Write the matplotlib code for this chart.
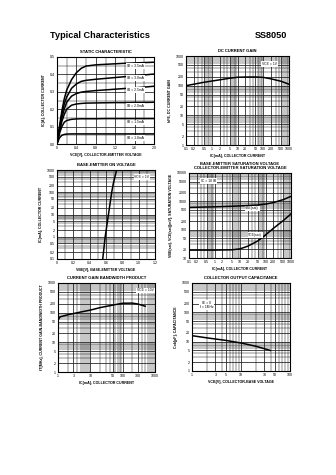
import matplotlib
matplotlib.use("Agg")
import matplotlib.pyplot as plt
from matplotlib.ticker import LogLocator, FixedLocator, FixedFormatter, NullFormatter, MultipleLocator

# ---------------- data ----------------
# Fig 1: static characteristic
vce1 = [0, 0.05, 0.1, 0.15, 0.2, 0.3, 0.4, 0.5, 0.6, 0.8, 1.0, 1.2, 1.4, 1.6, 1.8, 2.0]
ic1_a = [0, 0.10, 0.19, 0.26, 0.31, 0.37, 0.41, 0.435, 0.448, 0.455, 0.458, 0.461, 0.464, 0.466, 0.468, 0.47]
ic1_b = [0, 0.09, 0.17, 0.23, 0.27, 0.32, 0.345, 0.36, 0.366, 0.372, 0.377, 0.382, 0.387, 0.392, 0.397, 0.402]
ic1_c = [0, 0.08, 0.15, 0.20, 0.24, 0.275, 0.29, 0.298, 0.302, 0.307, 0.311, 0.315, 0.319, 0.323, 0.327, 0.332]
ic1_d = [0, 0.07, 0.13, 0.17, 0.20, 0.223, 0.23, 0.233, 0.235, 0.236, 0.237, 0.238, 0.238, 0.239, 0.239, 0.24]
ic1_e = [0, 0.06, 0.10, 0.125, 0.135, 0.142, 0.144, 0.145, 0.145, 0.145, 0.146, 0.146, 0.146, 0.146, 0.146, 0.146]
ic1_f = [0, 0.035, 0.05, 0.055, 0.057, 0.058, 0.058, 0.058, 0.058, 0.058, 0.058, 0.058, 0.058, 0.058, 0.058, 0.058]
ib_labels = ["IB = 3.5mA", "IB = 3.0mA", "IB = 2.5mA", "IB = 2.0mA", "IB = 1.5mA", "IB = 1.0mA"]

# Fig 2: DC current gain
ic2 = [0.1, 0.2, 0.5, 1, 2, 5, 10, 20, 50, 100, 200, 500, 1000]
hfe2 = [100, 112, 130, 143, 157, 178, 192, 195, 196, 190, 170, 140, 112]

# Fig 3: base-emitter on voltage
vbe3 = [0.56, 0.59, 0.63, 0.67, 0.69, 0.71, 0.73]
ic3 = [0.1, 1, 10, 100, 250, 500, 1000]

# Fig 4: saturation voltages
ic4 = [0.1, 1, 5, 10, 20, 50, 100, 200, 500, 1000]
vbesat4 = [610, 640, 670, 690, 710, 740, 800, 900, 1150, 1500]
vcesat4 = [19, 19, 19.5, 21, 26, 40, 65, 110, 210, 360]

# Fig 5: current gain bandwidth product
ic5 = [1, 1.15, 2, 5, 10, 20, 50, 100, 200, 300, 500]
ft5 = [55, 72, 85, 105, 122, 148, 180, 208, 210, 195, 165]

# Fig 6: collector output capacitance
vcb6 = [1, 2, 5, 10, 20, 40]
cob6 = [16, 13.5, 11, 9, 7, 5]

# ---------------- layout ----------------
W, H = 336, 475
fig = plt.figure(figsize=(W / 100, H / 100), dpi=100)
fig.patch.set_facecolor("white")
FONT = "Liberation Sans"
TS = 2.6   # tick label size
LS = 2.6   # axis label size
LW = 1.1   # curve width


def rect(x0, y0, x1, y1):
    return [x0 / W, 1 - y1 / H, (x1 - x0) / W, (y1 - y0) / H]


def style(ax, title, xlabel, ylabel):
    for s in ax.spines.values():
        s.set_linewidth(0.8)
        s.set_color("black")
    ax.tick_params(which="both", length=0, pad=1.5, labelsize=TS)
    for lab in ax.get_xticklabels() + ax.get_yticklabels():
        lab.set_fontfamily(FONT)
    ax.grid(True, which="major", color="#1a1a1a", linewidth=0.55)
    ax.grid(True, which="minor", color="#1a1a1a", linewidth=0.35)
    ax.set_axisbelow(True)
    ax.set_title(title, fontsize=3.0, fontweight="bold", fontfamily=FONT, pad=3, linespacing=1.0)
    ax.set_xlabel(xlabel, fontsize=LS, fontweight="bold", fontfamily=FONT, labelpad=2)
    ax.set_ylabel(ylabel, fontsize=LS, fontweight="bold", fontfamily=FONT, labelpad=3)


def note(ax, x, y, s, ha="left", va="center"):
    ax.text(x, y, s, fontsize=2.4, fontfamily=FONT, ha=ha, va=va, zorder=5,
            bbox=dict(facecolor="white", edgecolor="none", pad=0.6))


def logticks(ax, axis, vals):
    a = ax.xaxis if axis == "x" else ax.yaxis
    a.set_major_locator(FixedLocator(vals))
    a.set_major_formatter(FixedFormatter([("%g" % v) for v in vals]))
    a.set_minor_locator(LogLocator(base=10, subs=range(2, 10), numticks=50))
    a.set_minor_formatter(NullFormatter())


# Header
fig.text(50 / W, 1 - 36 / H, "Typical Characteristics", fontsize=6.6, fontweight="bold",
         fontfamily=FONT, ha="left", va="center")
fig.text(287 / W, 1 - 36 / H, "SS8050", fontsize=6.6, fontweight="bold",
         fontfamily=FONT, ha="right", va="center")

# ---- Fig 1 ----
ax1 = fig.add_axes(rect(57, 57, 154, 144))
for ic in [ic1_a, ic1_b, ic1_c, ic1_d, ic1_e, ic1_f]:
    ax1.plot(vce1, ic, color="black", linewidth=LW)
ax1.set_xlim(0, 2.0)
ax1.set_ylim(0, 0.5)
ax1.set_xticks([0, 0.4, 0.8, 1.2, 1.6, 2.0])
ax1.set_xticklabels(["0", "0.4", "0.8", "1.2", "1.6", "2.0"])
ax1.xaxis.set_minor_locator(MultipleLocator(0.2))
ax1.set_yticks([0, 0.1, 0.2, 0.3, 0.4, 0.5])
ax1.set_yticklabels(["0.0", "0.1", "0.2", "0.3", "0.4", "0.5"])
ax1.yaxis.set_minor_locator(MultipleLocator(0.05))
style(ax1, "STATIC CHARACTERISTIC", "VCE[V], COLLECTOR-EMITTER VOLTAGE", "IC[A], COLLECTOR CURRENT")
for ic, lab in zip([ic1_a, ic1_b, ic1_c, ic1_d, ic1_e, ic1_f], ib_labels):
    note(ax1, 1.45, ic[-1] - 0.022, lab)

# ---- Fig 2 ----
ax2 = fig.add_axes(rect(186, 56, 289, 145))
ax2.plot(ic2, hfe2, color="black", linewidth=LW)
ax2.set_xscale("log")
ax2.set_yscale("log")
ax2.set_xlim(0.1, 1000)
ax2.set_ylim(1, 1000)
logticks(ax2, "x", [0.1, 0.2, 0.5, 1, 2, 5, 10, 20, 50, 100, 200, 500, 1000])
logticks(ax2, "y", [1, 2, 5, 10, 20, 50, 100, 200, 500, 1000])
style(ax2, "DC CURRENT GAIN", "IC[mA], COLLECTOR CURRENT", "hFE, DC CURRENT GAIN")
note(ax2, 180, 540, "VCE = 1V", ha="center")

# ---- Fig 3 ----
ax3 = fig.add_axes(rect(57, 170, 155, 259))
ax3.plot(vbe3, ic3, color="black", linewidth=LW)
ax3.set_yscale("log")
ax3.set_xlim(0, 1.2)
ax3.set_ylim(0.1, 1000)
ax3.set_xticks([0, 0.2, 0.4, 0.6, 0.8, 1.0, 1.2])
ax3.set_xticklabels(["0", "0.2", "0.4", "0.6", "0.8", "1.0", "1.2"])
ax3.xaxis.set_minor_locator(MultipleLocator(0.1))
logticks(ax3, "y", [0.1, 0.2, 0.5, 1, 2, 5, 10, 20, 50, 100, 200, 500, 1000])
style(ax3, "BASE-EMITTER ON VOLTAGE", "VBE[V], BASE-EMITTER VOLTAGE", "IC[mA], COLLECTOR CURRENT")
note(ax3, 1.04, 490, "VCE = 1V", ha="center")

# ---- Fig 4 ----
ax4 = fig.add_axes(rect(189, 173, 291, 258))
ax4.plot(ic4, vbesat4, color="black", linewidth=LW)
ax4.plot(ic4, vcesat4, color="black", linewidth=LW)
ax4.set_xscale("log")
ax4.set_yscale("log")
ax4.set_xlim(0.1, 1000)
ax4.set_ylim(10, 10000)
logticks(ax4, "x", [0.1, 0.2, 0.5, 1, 2, 5, 10, 20, 50, 100, 200, 500, 1000])
logticks(ax4, "y", [10, 20, 50, 100, 200, 500, 1000, 2000, 5000, 10000])
style(ax4, "BASE-EMITTER SATURATION VOLTAGE\nCOLLECTOR-EMITTER SATURATION VOLTAGE",
      "IC[mA], COLLECTOR CURRENT", "VBE(sat), VCE(sat)[mV], SATURATION VOLTAGE")
note(ax4, 0.6, 5200, "IC = 10 IB", ha="center")
note(ax4, 30, 560, "VBE(sat)", ha="center")
note(ax4, 40, 66, "VCE(sat)", ha="center")

# ---- Fig 5 ----
ax5 = fig.add_axes(rect(58, 283, 155, 372))
ax5.plot(ic5, ft5, color="black", linewidth=LW)
ax5.set_xscale("log")
ax5.set_yscale("log")
ax5.set_xlim(1, 1000)
ax5.set_ylim(1, 1000)
logticks(ax5, "x", [1, 3, 10, 50, 100, 300, 1000])
logticks(ax5, "y", [1, 2, 5, 10, 20, 50, 100, 200, 500, 1000])
style(ax5, "CURRENT GAIN BANDWIDTH PRODUCT", "IC[mA], COLLECTOR CURRENT",
      "fT[MHz], CURRENT GAIN-BANDWIDTH PRODUCT")
note(ax5, 500, 560, "VCE = 10V", ha="center")

# ---- Fig 6 ----
ax6 = fig.add_axes(rect(192, 283, 290, 371))
ax6.plot(vcb6, cob6, color="black", linewidth=LW)
ax6.set_xscale("log")
ax6.set_yscale("log")
ax6.set_xlim(1, 100)
ax6.set_ylim(1, 1000)
logticks(ax6, "x", [1, 3, 5, 10, 30, 50, 100])
logticks(ax6, "y", [1, 2, 5, 10, 20, 50, 100, 200, 500, 1000])
style(ax6, "COLLECTOR OUTPUT CAPACITANCE", "VCB[V], COLLECTOR-BASE VOLTAGE", "Cob[pF], CAPACITANCE")
note(ax6, 2.0, 180, "IE = 0\nf = 1MHz", ha="center")

fig.savefig("out.png", dpi=100, facecolor="white")
